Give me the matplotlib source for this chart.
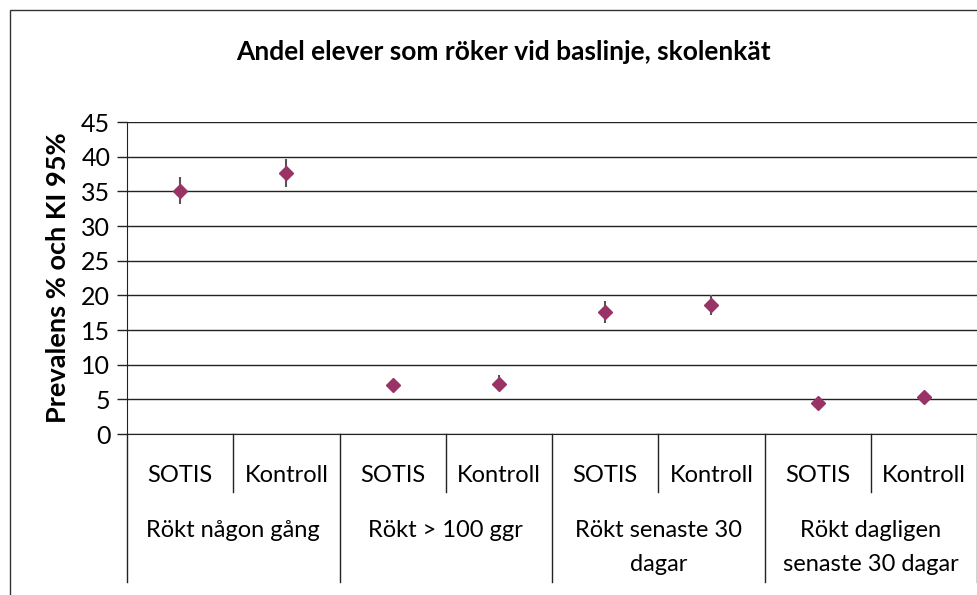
import numpy as np
import matplotlib
matplotlib.use("Agg")
import matplotlib.pyplot as plt
import matplotlib.transforms as mtransforms
from matplotlib.lines import Line2D
from matplotlib.patches import Rectangle

groups = ["Rökt någon gång", "Rökt > 100 ggr", "Rökt senaste 30\ndagar", "Rökt dagligen\nsenaste 30 dagar"]
arms = ["SOTIS", "Kontroll"]
prevalence = [35.1, 37.7, 7.0, 7.2, 17.6, 18.6, 4.4, 5.3]
ci_low = [33.2, 35.6, 6.2, 6.2, 16.0, 17.1, 3.6, 4.5]
ci_high = [37.1, 39.7, 7.8, 8.5, 19.2, 20.1, 5.2, 6.1]

plt.rcParams["font.family"] = ["Lato", "DejaVu Sans"]
fig = plt.figure(figsize=(9.77, 5.95), dpi=100)
fig.patches.append(Rectangle((10 / 977, -0.1), 1.1, 1 - 10 / 595 + 0.1, transform=fig.transFigure,
                             fill=False, edgecolor="#333333", linewidth=1.0))
ax = fig.add_axes([127 / 977, 1 - 434 / 595, 850 / 977, 312 / 595])

x = np.arange(len(prevalence))
y = np.array(prevalence)
err = [y - np.array(ci_low), np.array(ci_high) - y]
ax.errorbar(x, y, yerr=err, fmt="none", ecolor="#555555", elinewidth=1.5, capsize=0, zorder=3)
ax.plot(x, y, linestyle="none", marker="D", markersize=7.6, color="#993366", zorder=4)

ax.set_xlim(-0.5, len(x) - 0.5)
ax.set_ylim(0, 45)
ax.set_yticks(np.arange(0, 46, 5))
ax.yaxis.grid(True, color="#222222", linewidth=1.0)
ax.set_axisbelow(True)
for s in ["top", "right"]:
    ax.spines[s].set_visible(False)
ax.spines["left"].set_color("#222222")
ax.spines["bottom"].set_color("#222222")
ax.tick_params(axis="y", direction="out", length=7, width=1, labelsize=18, pad=5, color="#222222")
ax.set_xticks([])
ax.set_ylabel("Prevalens % och KI 95%", fontsize=19.5, fontweight="bold", labelpad=8)
fig.text(503 / 977, 1 - 52 / 595, "Andel elever som röker vid baslinje, skolenkät",
         ha="center", va="center", fontsize=19, fontweight="bold")

trans = mtransforms.blended_transform_factory(ax.transData, ax.transAxes)
for i in range(len(x)):
    ax.text(x[i], -42 / 312, arms[i % 2], transform=trans, ha="center", va="center", fontsize=17)
for g, name in enumerate(groups):
    ax.text(2 * g + 0.5, -86 / 312, name, transform=trans, ha="center", va="top",
            fontsize=17, linespacing=1.75)
for b in np.arange(0.5, len(x), 2):
    ax.add_line(Line2D([b, b], [0, -58 / 312], transform=trans, color="#222222", lw=1, clip_on=False))
for b in np.arange(-0.5, len(x) + 0.5, 2):
    ax.add_line(Line2D([b, b], [0, -148 / 312], transform=trans, color="#222222", lw=1, clip_on=False))

fig.savefig("out.png", dpi=100)
